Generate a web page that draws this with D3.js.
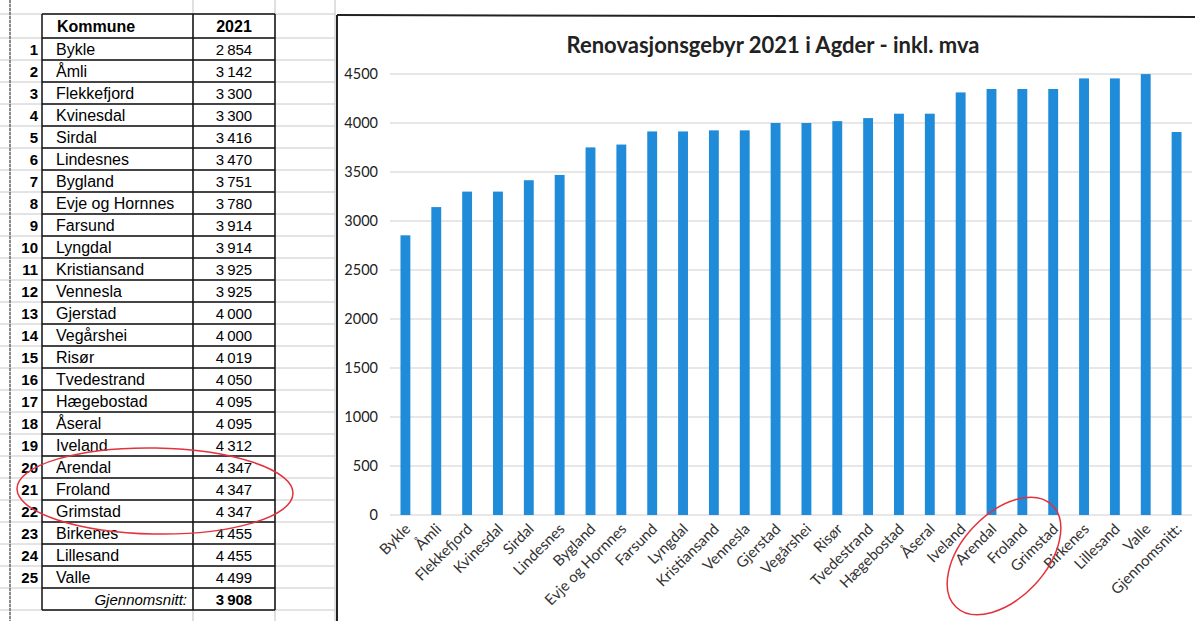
<!DOCTYPE html>
<html><head><meta charset="utf-8">
<script src="https://cdn.jsdelivr.net/npm/d3@7"></script>
<style>body{margin:0;background:#fff}svg{display:block}</style>
</head><body>
<svg id="c" width="1195" height="621"></svg>
<script>
// ---- data ----
const kommuner = ["Bykle","Åmli","Flekkefjord","Kvinesdal","Sirdal","Lindesnes","Bygland","Evje og Hornnes","Farsund","Lyngdal","Kristiansand","Vennesla","Gjerstad","Vegårshei","Risør","Tvedestrand","Hægebostad","Åseral","Iveland","Arendal","Froland","Grimstad","Birkenes","Lillesand","Valle"];
const gebyr2021 = [2854,3142,3300,3300,3416,3470,3751,3780,3914,3914,3925,3925,4000,4000,4019,4050,4095,4095,4312,4347,4347,4347,4455,4455,4499];
const avgLabel = "Gjennomsnitt:";
const avgValue = 3908;
const yTicks = [0,500,1000,1500,2000,2500,3000,3500,4000,4500];
const chartTitle = "Renovasjonsgebyr 2021 i Agder - inkl. mva";
const tableHeader = ["Kommune","2021"];

const categories = kommuner.concat([avgLabel]);
const values = gebyr2021.concat([avgValue]);

const svg = d3.select("#c");
const fmt = v => d3.format(",")(v).replace(",", "\u2009");

// ---- table ----
const colX = [10, 42, 193, 275, 335];
const top0 = 14, headH = 24, rowH = 22;
const nRows = kommuner.length + 1;
const rowY = i => top0 + headH + i * rowH; // top of data row i
const bottom = rowY(nRows);
const g = svg.append("g");
// faint spreadsheet grid
const hl = [top0].concat(d3.range(nRows + 1).map(rowY));
g.selectAll("line.fg").data(hl.concat([bottom + rowH])).join("line")
  .attr("x1", 0).attr("x2", 335).attr("y1", d => d).attr("y2", d => d)
  .attr("stroke", "#c8c8c8").attr("stroke-width", 1);
g.selectAll("line.fv").data([10, 193, 275, 335]).join("line")
  .attr("x1", d => d).attr("x2", d => d).attr("y1", 0).attr("y2", 621)
  .attr("stroke", "#c0c0c0").attr("stroke-width", 1);
g.append("line").attr("x1", 10).attr("x2", 10).attr("y1", 0).attr("y2", 621)
  .attr("stroke", "#555").attr("stroke-width", 1.2).attr("stroke-dasharray", "3,1");
// black borders on Kommune / 2021 columns
g.selectAll("line.bh").data(hl).join("line")
  .attr("x1", 42).attr("x2", 275).attr("y1", d => d).attr("y2", d => d)
  .attr("stroke", "#111").attr("stroke-width", 1.3);
g.selectAll("line.bv").data([42, 193, 275]).join("line")
  .attr("x1", d => d).attr("x2", d => d).attr("y1", top0).attr("y2", bottom)
  .attr("stroke", "#111").attr("stroke-width", 1.5);

const tf = "'Liberation Sans', Arial, sans-serif";
g.append("text").attr("x", 57).attr("y", top0 + 18).text(tableHeader[0])
  .attr("font-family", tf).attr("font-weight", "bold").attr("font-size", 16);
g.append("text").attr("x", 234).attr("y", top0 + 18).text(tableHeader[1])
  .attr("font-family", tf).attr("font-weight", "bold").attr("font-size", 16).attr("text-anchor", "middle");
kommuner.forEach((k, i) => {
  const y = rowY(i) + 17;
  g.append("text").attr("x", 38).attr("y", y).text(i + 1).attr("text-anchor", "end")
    .attr("font-family", tf).attr("font-weight", "bold").attr("font-size", 15);
  g.append("text").attr("x", 56).attr("y", y).text(k)
    .attr("font-family", tf).attr("font-size", 16);
  g.append("text").attr("x", 234).attr("y", y).text(fmt(gebyr2021[i])).attr("text-anchor", "middle")
    .attr("font-family", tf).attr("font-size", 15);
});
{
  const y = rowY(kommuner.length) + 17;
  g.append("text").attr("x", 187).attr("y", y).text(avgLabel).attr("text-anchor", "end")
    .attr("font-family", tf).attr("font-style", "italic").attr("font-size", 15);
  g.append("text").attr("x", 234).attr("y", y).text(fmt(avgValue)).attr("text-anchor", "middle")
    .attr("font-family", tf).attr("font-weight", "bold").attr("font-size", 15);
}

// ---- chart ----
const cf = "Lato, 'Open Sans', sans-serif";
svg.append("rect").attr("x", 338).attr("y", 16).attr("width", 860).attr("height", 610).attr("fill", "#fff");
svg.append("line").attr("x1", 337).attr("x2", 337).attr("y1", 15).attr("y2", 621).attr("stroke", "#222").attr("stroke-width", 2);
svg.append("line").attr("x1", 337).attr("x2", 1195).attr("y1", 15).attr("y2", 17).attr("stroke", "#222").attr("stroke-width", 2);

const x = d3.scaleBand().domain(categories).range([390, 1192]).paddingInner(0.68).paddingOuter(0.34);
const y = d3.scaleLinear().domain([0, 4500]).range([515, 74]);

const grid = svg.append("g");
grid.selectAll("line").data(yTicks).join("line")
  .attr("x1", 390).attr("x2", 1192).attr("y1", d => y(d)).attr("y2", d => y(d))
  .attr("stroke", "#cfcfcf").attr("stroke-width", 1);

const yAxis = svg.append("g").attr("transform", "translate(384,0)")
  .call(d3.axisLeft(y).tickValues(yTicks).tickSize(0).tickPadding(6).tickFormat(d3.format("d")));
yAxis.select(".domain").remove();
yAxis.selectAll("text").attr("font-family", cf).attr("font-size", 14.5).attr("fill", "#222");

svg.append("g").selectAll("rect").data(values).join("rect")
  .attr("x", (d, i) => x(categories[i])).attr("width", x.bandwidth())
  .attr("y", d => y(d)).attr("height", d => y(0) - y(d))
  .attr("fill", "#1f8bd9");

const xAxis = svg.append("g").attr("transform", `translate(0,${y(0)})`)
  .call(d3.axisBottom(x).tickSize(0).tickPadding(0));
xAxis.select(".domain").remove();
xAxis.selectAll("text")
  .attr("font-family", cf).attr("font-size", 15).attr("fill", "#333")
  .attr("text-anchor", "end").attr("dy", 0)
  .attr("transform", "translate(6,15) rotate(-45)");

svg.append("text").attr("x", 773).attr("y", 53).attr("text-anchor", "middle")
  .attr("font-family", cf).attr("font-weight", "bold").attr("font-size", 22).attr("fill", "#222")
  .text(chartTitle);

// ---- red annotation ellipses ----
svg.append("ellipse").attr("cx", 155).attr("cy", 491).attr("rx", 138).attr("ry", 43)
  .attr("transform", "rotate(1,155,491)")
  .attr("fill", "none").attr("stroke", "#e2323c").attr("stroke-width", 1.5);
svg.append("ellipse").attr("cx", 1004).attr("cy", 556).attr("rx", 70).attr("ry", 42)
  .attr("transform", "rotate(-47,1004,556)")
  .attr("fill", "none").attr("stroke", "#e2323c").attr("stroke-width", 1.5);
</script>
</body></html>
